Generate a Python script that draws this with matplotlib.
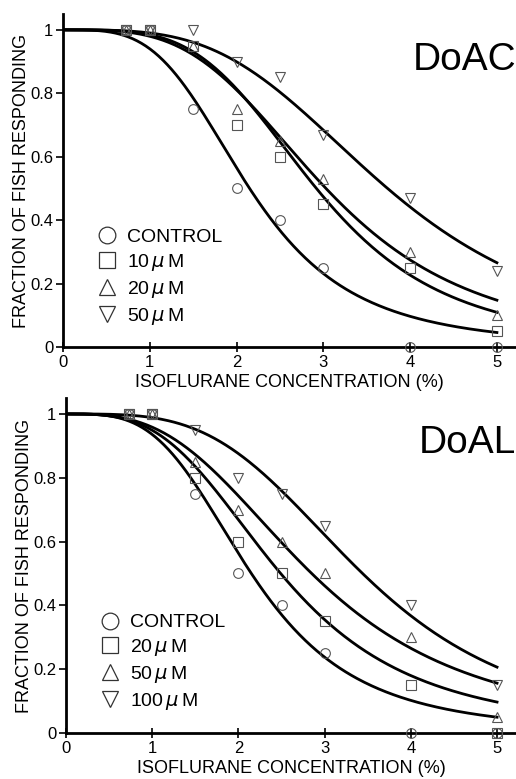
import numpy as np
import matplotlib.pyplot as plt
from matplotlib.lines import Line2D

plt.rcParams['font.family'] = ['Liberation Sans', 'DejaVu Sans']
plt.rcParams['mathtext.fontset'] = 'dejavusans'

# isoflurane concentration (%)
conc = [0.73, 1.0, 1.5, 2.0, 2.5, 3.0, 4.0, 5.0]

# DoAC panel: fraction of fish responding
doac_labels = ['CONTROL', r'10$\,\mu\,$M', r'20$\,\mu\,$M', r'50$\,\mu\,$M']
doac_control = [1, 1, 0.75, 0.50, 0.40, 0.25, 0.0, 0.0]
doac_10 = [1, 1, 0.95, 0.70, 0.60, 0.45, 0.25, 0.05]
doac_20 = [1, 1, 0.95, 0.75, 0.65, 0.53, 0.30, 0.10]
doac_50 = [1, 1, 1.00, 0.90, 0.85, 0.67, 0.47, 0.24]
# fitted curves (EC50, Hill slope)
doac_ec50 = [2.15, 2.92, 3.03, 3.74]
doac_hill = [3.6, 3.9, 3.5, 3.5]

# DoAL panel
doal_labels = ['CONTROL', r'20$\,\mu\,$M', r'50$\,\mu\,$M', r'100$\,\mu\,$M']
doal_control = [1, 1, 0.75, 0.50, 0.40, 0.25, 0.0, 0.0]
doal_20 = [1, 1, 0.80, 0.60, 0.50, 0.35, 0.15, 0.0]
doal_50 = [1, 1, 0.85, 0.70, 0.60, 0.50, 0.30, 0.05]
doal_100 = [1, 1, 0.95, 0.80, 0.75, 0.65, 0.40, 0.15]
doal_ec50 = [2.15, 2.49, 2.85, 3.44]
doal_hill = [3.5, 3.2, 3.0, 3.6]

markers = ['o', 's', '^', 'v']
mec = '#555555'


def hill(x, ec50, n):
    return 1.0 / (1.0 + (x / ec50) ** n)


def panel(ax, series, ec50s, hills, labels, name, name_y):
    xs = np.linspace(0, 5, 300)
    for e, n in zip(ec50s, hills):
        ax.plot(xs, hill(xs, e, n), color='black', lw=2.0, zorder=2)
    for ys, m in zip(series, markers):
        ax.plot(conc, ys, linestyle='none', marker=m, ms=7, mfc='none',
                mec=mec, mew=0.8, zorder=3, clip_on=False)

    ax.set_xlim(0, 5.22)
    ax.set_ylim(0, 1.05)
    ax.set_xticks([0, 1, 2, 3, 4, 5])
    ax.set_xticklabels(['0', '1', '2', '3', '4', '5'])
    ax.set_yticks([0, 0.2, 0.4, 0.6, 0.8, 1])
    ax.set_yticklabels(['0', '0.2', '0.4', '0.6', '0.8', '1'])
    ax.tick_params(axis='both', labelsize=12, width=1.2, length=5, pad=2)
    ax.tick_params(axis='x', direction='inout', length=7)
    for s in ['top', 'right']:
        ax.spines[s].set_visible(False)
    for s in ['left', 'bottom']:
        ax.spines[s].set_linewidth(2.0)

    ax.set_xlabel('ISOFLURANE CONCENTRATION (%)', fontsize=13, labelpad=3)
    ax.set_ylabel('FRACTION OF FISH RESPONDING', fontsize=13, labelpad=0)

    ax.text(1.0, name_y, name, transform=ax.transAxes, ha='right',
            va='baseline', fontsize=28)

    handles = [Line2D([], [], linestyle='none', marker=m, ms=12, mfc='none',
                      mec='#333333', mew=0.9) for m in markers]
    ax.legend(handles, labels, loc='upper left', bbox_to_anchor=(0.055, 0.385),
              frameon=False, fontsize=14, handlelength=1.0, handletextpad=0.5,
              labelspacing=0.3, borderpad=0)


fig = plt.figure(figsize=(5.16, 7.79), dpi=100)
ax1 = fig.add_axes([63 / 516, 1 - 347 / 779, 453 / 516, 333 / 779])
ax2 = fig.add_axes([66 / 516, 1 - 733 / 779, 450 / 516, 335 / 779])

panel(ax1, [doac_control, doac_10, doac_20, doac_50], doac_ec50, doac_hill,
      doac_labels, 'DoAC', 0.832)
panel(ax2, [doal_control, doal_20, doal_50, doal_100], doal_ec50, doal_hill,
      doal_labels, 'DoAL', 0.836)

fig.savefig('out.png', dpi=100)
